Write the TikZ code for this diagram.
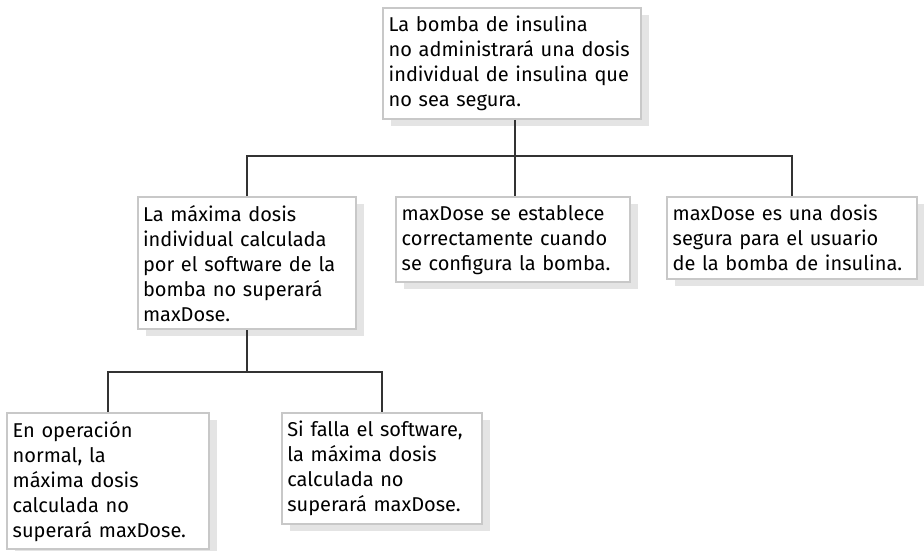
\documentclass[tikz,border=0pt]{standalone}
\usepackage{fontspec}
\setmainfont{Fira Sans}
\usetikzlibrary{shadows}
\hyphenpenalty=10000
\definecolor{boxgray}{RGB}{200, 200, 200}
\definecolor{shadegray}{RGB}{228, 228, 228}
\definecolor{linegray}{RGB}{51, 51, 51}
\tikzset{
  claim/.style={draw=boxgray, line width=1.5pt, fill=white, anchor=north,
    align=left, inner xsep=4pt, inner ysep=6pt,
    font=\fontsize{15}{18.75}\selectfont,
    drop shadow={shadow xshift=6pt, shadow yshift=-5pt, fill=shadegray, opacity=1}},
  link/.style={draw=linegray, line width=1pt}
}
\begin{document}
\begin{tikzpicture}[x=0.75pt, y=-0.75pt]
  \useasboundingbox (0,0) rectangle (924,550);
  % Goal
  \node[claim, text width=185pt] (goal) at (512,7) {La bomba de insulina\\ no administrará una dosis\\ individual de insulina que\\ no sea segura.};

  % Second level
  \node[claim, text width=156pt] (calc) at (247,196) {La máxima dosis\\ individual calculada\\ por el software de la\\ bomba no superará\\ maxDose.};
  \node[claim, text width=167pt] (setup) at (513,196) {maxDose se establece\\ correctamente cuando\\ se configura la bomba.};
  \node[claim, text width=179pt] (safe) at (792,196) {maxDose es una dosis\\ segura para el usuario\\ de la bomba de insulina.};

  % Third level
  \node[claim, text width=143pt] (normal) at (108,412) {En operación\\ normal, la\\ máxima dosis\\ calculada no\\ superará maxDose.};
  \node[claim, text width=142pt] (fail) at (382,412) {Si falla el software,\\ la máxima dosis\\ calculada no\\ superará maxDose.};

  % Junctions
  \coordinate (j1) at (515,156);
  \coordinate (j2) at (247,372);

  % Goal to second level
  \draw[link] (goal.south -| j1) -- (j1);
  \draw[link] (calc.north) |- (j1) -| (safe.north);
  \draw[link] (j1) -- (setup.north -| j1);
  % Second level to third level
  \draw[link] (calc.south) -- (j2);
  \draw[link] (normal.north) |- (j2) -| (fail.north);
\end{tikzpicture}
\end{document}
